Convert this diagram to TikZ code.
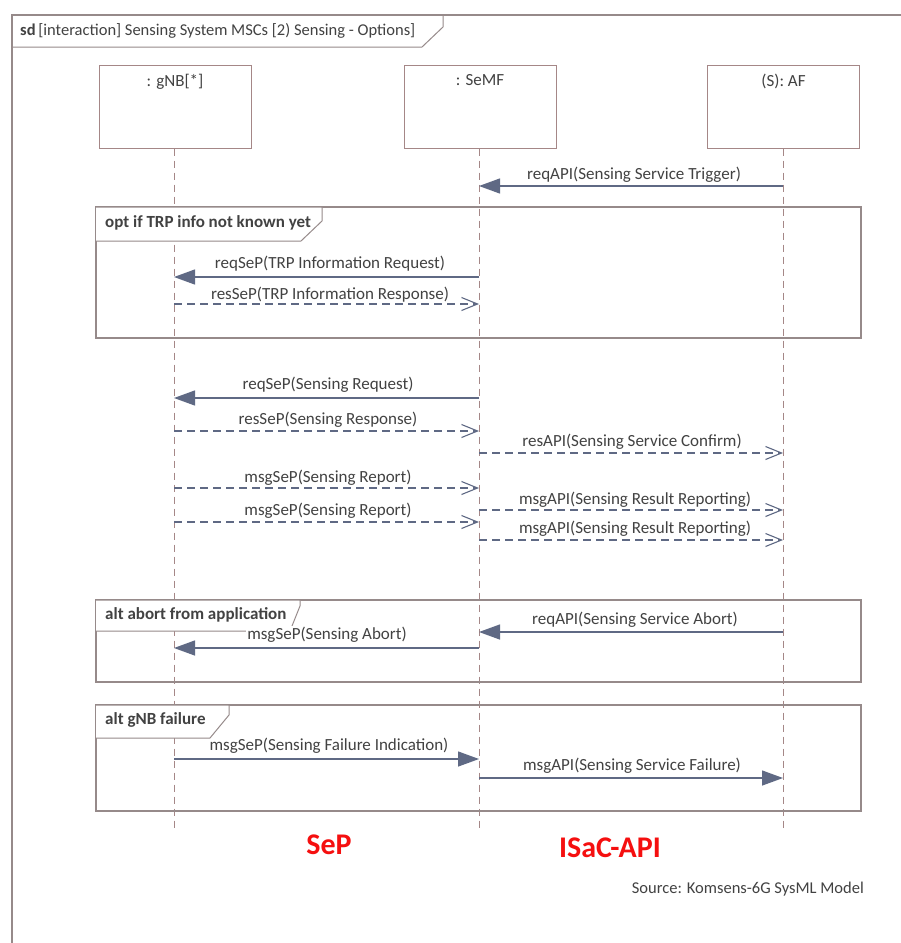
\documentclass[tikz,border=0pt]{standalone}
\usepackage{fontspec}
\setmainfont{Carlito}
\usetikzlibrary{arrows.meta}
\definecolor{frameC}{RGB}{150,138,138}
\definecolor{lifeC}{RGB}{165,135,135}
\definecolor{msgC}{RGB}{95,105,132}
\definecolor{txtC}{RGB}{66,66,66}
\definecolor{redC}{RGB}{245,15,15}
\tikzset{
  headbox/.style={draw=lifeC, line width=1pt, fill=white, minimum width=152pt, minimum height=83pt, inner sep=0pt},
  lifeline/.style={draw=lifeC, line width=0.9pt, dash pattern=on 7pt off 5pt},
  syncmsg/.style={draw=msgC, line width=1.3pt, -{Triangle[length=21pt,width=15pt]}},
  retmsg/.style={draw=msgC, line width=1.1pt, dash pattern=on 8pt off 5pt, -{Straight Barb[length=16pt,width=13pt,line width=1.1pt]}},
  msglbl/.style={font=\fontsize{17}{19}\selectfont, text=txtC, inner sep=1pt, yshift=-1.5pt},
  fragbox/.style={draw=frameC, line width=2.2pt},
  fraghead/.style={draw=frameC, line width=1pt, fill=white},
  fraglbl/.style={font=\fontsize{17}{19}\selectfont\bfseries, text=txtC, anchor=west, inner sep=0pt},
  redlbl/.style={font=\fontsize{30}{32}\selectfont\bfseries, text=redC},
}
\begin{document}
\begin{tikzpicture}[x=1pt,y=-1pt]
\useasboundingbox (0,0) rectangle (901,943);
\fill[white] (0,0) rectangle (901,943);
% outer frame
\draw[frameC, line width=2.4pt] (12,943) -- (12,15) -- (901,15);
\draw[frameC, line width=1pt] (12,15) -- (443,15) -- (443,27) -- (422,47) -- (12,47);
\node[anchor=west, font=\fontsize{16.5}{19}\selectfont, text=txtC, inner sep=0pt] (title) at (20,31) {\textbf{sd}\,[interaction] Sensing System MSCs [2) Sensing - Options]};
% lifeline heads
\node[headbox, label={[anchor=north, font=\fontsize{17}{19}\selectfont, text=txtC, yshift=-6pt]north:{: gNB[*]}}] (gnb) at (175,106.5) {};
\node[headbox, label={[anchor=north, font=\fontsize{17}{19}\selectfont, text=txtC, yshift=-6pt]north:{: SeMF}}] (semf) at (480,106.5) {};
\node[headbox, label={[anchor=north, font=\fontsize{17}{19}\selectfont, text=txtC, yshift=-6pt]north:{(S): AF}}] (af) at (783.5,106.5) {};
\coordinate (gnbE) at (174,830);
\coordinate (semfE) at (479,830);
\coordinate (afE) at (783,830);
\draw[lifeline] (gnb.south -| gnbE) -- (gnbE);
\draw[lifeline] (semf.south -| semfE) -- (semfE);
\draw[lifeline] (af.south -| afE) -- (afE);
% fragments
\draw[fragbox] (96,207) rectangle (861,338);
\draw[fraghead] (96,207) -- (322,207) -- (322,221) -- (301,241) -- (96,241);
\node[fraglbl] (opt) at (105,223) {opt if TRP info not known yet};
\draw[fragbox] (96,600) rectangle (861,682);
\draw[fraghead] (96,600) -- (300,600) -- (300,606) -- (290,631) -- (96,631);
\node[fraglbl] (alt1) at (105,615) {alt abort from application};
\draw[fragbox] (96,705) rectangle (861,811);
\draw[fraghead] (96,705) -- (229,705) -- (229,715) -- (210,738) -- (96,738);
\node[fraglbl] (alt2) at (105,720) {alt gNB failure};
% messages
\draw[syncmsg] (afE |- 0,186) -- (semfE |- 0,186);
\node[msglbl] (l1) at (634,173) {reqAPI(Sensing Service Trigger)};
\draw[syncmsg] (semfE |- 0,277) -- (gnbE |- 0,277);
\node[msglbl] (l2) at (330,262) {reqSeP(TRP Information Request)};
\draw[retmsg] (gnbE |- 0,304) -- (semfE |- 0,304);
\node[msglbl] (l3) at (330,293) {resSeP(TRP Information Response)};
\draw[syncmsg] (semfE |- 0,398) -- (gnbE |- 0,398);
\node[msglbl] (l4) at (328,383) {reqSeP(Sensing Request)};
\draw[retmsg] (gnbE |- 0,431) -- (semfE |- 0,431);
\node[msglbl] (l5) at (328,418) {resSeP(Sensing Response)};
\draw[retmsg] (semfE |- 0,453) -- (afE |- 0,453);
\node[msglbl] (l6) at (632,440) {resAPI(Sensing Service Confirm)};
\draw[retmsg] (gnbE |- 0,488) -- (semfE |- 0,488);
\node[msglbl] (l7) at (328,476) {msgSeP(Sensing Report)};
\draw[retmsg] (semfE |- 0,510) -- (afE |- 0,510);
\node[msglbl] (l8) at (635,498) {msgAPI(Sensing Result Reporting)};
\draw[retmsg] (gnbE |- 0,522) -- (semfE |- 0,522);
\node[msglbl] (l9) at (328,509) {msgSeP(Sensing Report)};
\draw[retmsg] (semfE |- 0,540) -- (afE |- 0,540);
\node[msglbl] (l10) at (635,527) {msgAPI(Sensing Result Reporting)};
\draw[syncmsg] (afE |- 0,632) -- (semfE |- 0,632);
\node[msglbl] (l11) at (635,618) {reqAPI(Sensing Service Abort)};
\draw[syncmsg] (semfE |- 0,648) -- (gnbE |- 0,648);
\node[msglbl, fill=white] (l12) at (327,633) {msgSeP(Sensing Abort)};
\draw[syncmsg] (gnbE |- 0,759) -- (semfE |- 0,759);
\node[msglbl] (l13) at (329,744) {msgSeP(Sensing Failure Indication)};
\draw[syncmsg] (semfE |- 0,778) -- (afE |- 0,778);
\node[msglbl] (l14) at (632,764) {msgAPI(Sensing Service Failure)};
% red labels
\node[redlbl] (sep) at (329,845) {SeP};
\node[redlbl] (isac) at (610,848) {ISaC-API};
\node[anchor=east, font=\fontsize{16.5}{18}\selectfont, text=txtC, inner sep=0pt] (src) at (864,889) {Source: Komsens-6G SysML Model};
\end{tikzpicture}
\end{document}
